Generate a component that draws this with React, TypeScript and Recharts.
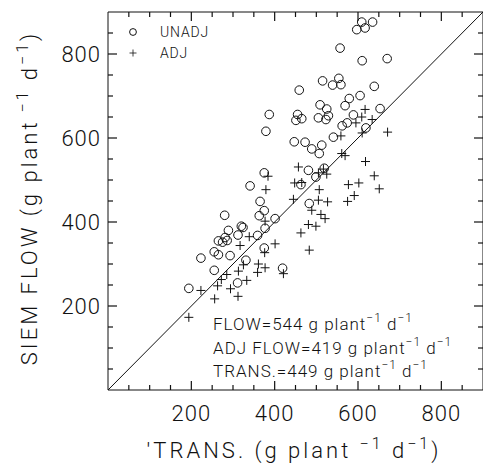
import React from 'react';
import { ScatterChart, Scatter, XAxis, YAxis, ReferenceLine } from 'recharts';

// UNADJ series (TRANS., SIEM FLOW)
const unadjTrans = [194, 223, 255, 265, 255, 280, 265, 275, 281, 286, 289, 293, 312, 320, 324, 311, 331, 341, 359, 365, 375, 363, 375, 387, 379, 375, 377, 401, 419, 447, 451, 455, 465, 459, 473, 463, 481, 489, 483, 499, 505, 507, 509, 513, 515, 519, 523, 525, 529, 539, 541, 554, 557, 559, 562, 569, 574, 579, 589, 605, 597, 609, 617, 635, 610, 619, 639, 653, 670];
const unadjFlow = [242, 314, 329, 322, 285, 416, 355, 352, 363, 356, 380, 320, 369, 390, 387, 255, 309, 486, 368, 449, 427, 415, 517, 656, 616, 338, 385, 408, 290, 591, 642, 656, 646, 714, 590, 489, 523, 574, 444, 507, 648, 563, 679, 583, 736, 528, 644, 669, 653, 726, 602, 742, 814, 727, 629, 677, 636, 694, 655, 701, 858, 876, 862, 876, 784, 624, 723, 670, 789];

// ADJ series (TRANS., adjusted SIEM FLOW)
const adjTrans = [194, 223, 256, 263, 272, 285, 294, 312, 313, 317, 325, 333, 339, 359, 361, 376, 377, 377, 379, 384, 401, 421, 445, 448, 457, 465, 463, 481, 499, 483, 489, 505, 527, 507, 511, 521, 505, 525, 517, 559, 561, 569, 575, 577, 591, 602, 618, 639, 651, 595, 609, 617, 634, 610, 671];
const adjFlow = [173, 237, 217, 248, 263, 275, 241, 223, 283, 344, 298, 261, 365, 280, 300, 327, 291, 402, 477, 509, 348, 277, 454, 493, 531, 494, 374, 394, 390, 333, 428, 452, 448, 477, 418, 408, 517, 514, 526, 605, 563, 558, 449, 489, 463, 493, 544, 510, 479, 636, 650, 668, 644, 612, 614];

const seriesNames = ['UNADJ', 'ADJ'];
const axisDomain = [0, 900];
const minorTicks = [50, 100, 150, 200, 250, 300, 350, 400, 450, 500, 550, 600, 650, 700, 750, 800, 850];
const labelTicks = [200, 400, 600, 800];
const noteLines = [
  { text: 'FLOW=544 g plant', u1: '−1', mid: ' d', u2: '−1' },
  { text: 'ADJ FLOW=419 g plant', u1: '−1', mid: ' d', u2: '−1' },
  { text: 'TRANS.=449 g plant', u1: '−1', mid: ' d', u2: '−1' },
];
const xTitle = "'TRANS. (g plant ";
const yTitle = 'SIEM FLOW (g plant';

const unadjData = unadjTrans.map((x, i) => ({ x, y: unadjFlow[i] }));
const adjData = adjTrans.map((x, i) => ({ x, y: adjFlow[i] }));

const FONT = "Roboto, 'Liberation Sans', sans-serif";
const INK = '#111';

const isMajor = (v: number) => labelTicks.indexOf(v) >= 0;

const BottomTick = (p: any) => {
  const { x, y, payload } = p;
  const v = payload.value;
  const len = isMajor(v) ? 9 : 5;
  return (
    <g>
      <line x1={x} x2={x} y1={y} y2={y - len} stroke={INK} strokeWidth={1.2} />
      {isMajor(v) ? (
        <text x={x} y={y + 31} textAnchor="middle" fontSize={22} fontFamily={FONT} fontWeight={300} fill={INK} letterSpacing={1}>
          {v}
        </text>
      ) : null}
    </g>
  );
};

const TopTick = (p: any) => {
  const { x, y, payload } = p;
  const len = isMajor(payload.value) ? 9 : 5;
  return (
    <g>
      <line x1={x} x2={x} y1={y} y2={y + len} stroke={INK} strokeWidth={1.2} />
    </g>
  );
};

const LeftTick = (p: any) => {
  const { x, y, payload } = p;
  const v = payload.value;
  const len = isMajor(v) ? 9 : 5;
  return (
    <g>
      <line x1={x} x2={x + len} y1={y} y2={y} stroke={INK} strokeWidth={1.2} />
      {isMajor(v) ? (
        <text x={x - 7} y={y + 8} textAnchor="end" fontSize={22} fontFamily={FONT} fontWeight={300} fill={INK} letterSpacing={1}>
          {v}
        </text>
      ) : null}
    </g>
  );
};

const RightTick = (p: any) => {
  const { x, y, payload } = p;
  const len = isMajor(payload.value) ? 9 : 5;
  return (
    <g>
      <line x1={x} x2={x - len} y1={y} y2={y} stroke={INK} strokeWidth={1.2} />
    </g>
  );
};

const CircleShape = (p: any) => <circle cx={p.cx} cy={p.cy} r={4.3} fill="none" stroke={INK} strokeWidth={1} />;
const PlusShape = (p: any) => (
  <g stroke={INK} strokeWidth={1}>
    <line x1={p.cx - 4.5} x2={p.cx + 4.5} y1={p.cy} y2={p.cy} />
    <line x1={p.cx} x2={p.cx} y1={p.cy - 4.5} y2={p.cy + 4.5} />
  </g>
);
const NoShape = () => <g />;

export default function App() {
  return (
    <div style={{ position: 'absolute', left: 0, top: 0, width: 483, height: 464, background: '#fff', overflow: 'hidden' }}>
      <ScatterChart width={484} height={464} margin={{ top: 11, right: 0, bottom: 0, left: 0 }}>
        <XAxis type="number" dataKey="x" domain={axisDomain} ticks={minorTicks} tick={<BottomTick />} tickSize={0} tickMargin={0} tickLine={false} axisLine={{ stroke: INK }} height={74} interval={0} />
        <XAxis xAxisId="top" orientation="top" type="number" dataKey="x" domain={axisDomain} ticks={minorTicks} tick={<TopTick />} tickSize={0} tickMargin={0} tickLine={false} axisLine={{ stroke: INK }} height={1} interval={0} />
        <YAxis type="number" dataKey="y" domain={axisDomain} ticks={minorTicks} tick={<LeftTick />} tickSize={0} tickMargin={0} tickLine={false} axisLine={{ stroke: INK }} width={108} interval={0} />
        <YAxis yAxisId="right" orientation="right" type="number" dataKey="y" domain={axisDomain} ticks={minorTicks} tick={<RightTick />} tickSize={0} tickMargin={0} tickLine={false} axisLine={{ stroke: INK }} width={1} interval={0} />
        <ReferenceLine segment={[{ x: 0, y: 0 }, { x: 900, y: 900 }]} stroke={INK} strokeWidth={1} ifOverflow="hidden" />
        <Scatter name={seriesNames[0]} data={unadjData} shape={<CircleShape />} isAnimationActive={false} />
        <Scatter name={seriesNames[1]} data={adjData} shape={<PlusShape />} isAnimationActive={false} />
        <Scatter xAxisId="top" yAxisId="right" data={unadjData} shape={<NoShape />} isAnimationActive={false} />
      </ScatterChart>
      <svg width={483} height={464} style={{ position: 'absolute', left: 0, top: 0, pointerEvents: 'none' }}>
        <circle cx={133} cy={32} r={3.4} fill="none" stroke={INK} strokeWidth={1} />
        <text x={160} y={37} fontSize={14} fontFamily={FONT} fontWeight={300} fill={INK} letterSpacing={0.8}>{seriesNames[0]}</text>
        <g stroke={INK} strokeWidth={0.8}>
          <line x1={129.5} x2={136.5} y1={53} y2={53} />
          <line x1={133} x2={133} y1={49.5} y2={56.5} />
        </g>
        <text x={160} y={58} fontSize={14} fontFamily={FONT} fontWeight={300} fill={INK} letterSpacing={0.8}>{seriesNames[1]}</text>
        {noteLines.map((n, i) => (
          <text key={i} x={213} y={330 + i * 23.5} fontSize={17} fontFamily={FONT} fontWeight={300} fill={INK} letterSpacing={1}>
            {n.text}
            <tspan dy={-8} fontSize={12}>{n.u1}</tspan>
            <tspan dy={8}>{' ' + n.mid}</tspan>
            <tspan dy={-8} fontSize={12}>{n.u2}</tspan>
          </text>
        ))}
        <text x={294} y={458} textAnchor="middle" fontSize={22} fontFamily={FONT} fontWeight={300} fill={INK} letterSpacing={3}>
          {xTitle}
          <tspan dy={-9} fontSize={16}>−1</tspan>
          <tspan dy={9}> d</tspan>
          <tspan dy={-9} fontSize={16}>−1</tspan>
          <tspan dy={9}>)</tspan>
        </text>
        <text x={0} y={0} transform="translate(37,198) rotate(-90)" textAnchor="middle" fontSize={22} fontFamily={FONT} fontWeight={300} fill={INK} letterSpacing={3}>
          {yTitle}
          <tspan dy={-9} fontSize={16}> −1</tspan>
          <tspan dy={9}> d</tspan>
          <tspan dy={-9} fontSize={16}>−1</tspan>
          <tspan dy={9}>)</tspan>
        </text>
      </svg>
    </div>
  );
}
